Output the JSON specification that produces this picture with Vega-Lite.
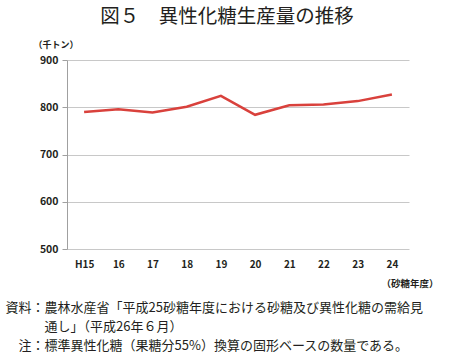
{
  "$schema": "https://vega.github.io/schema/vega-lite/v6.json",
  "autosize": "none",
  "width": 342,
  "height": 189,
  "padding": {"left": 67, "top": 60, "right": 41, "bottom": 103},
  "background": "white",
  "config": {
    "font": "Noto Sans CJK JP",
    "view": {"stroke": null},
    "axis": {"labelFont": "Noto Sans CJK JP", "titleFont": "Noto Sans CJK JP"}
  },
  "title": {
    "text": "図５　異性化糖生産量の推移",
    "fontSize": 19.5,
    "fontWeight": 400,
    "color": "#231f20",
    "anchor": "middle",
    "dx": -11,
    "offset": 13
  },
  "data": {
    "values": [
      {"year": "H15", "v": 790},
      {"year": "16", "v": 796},
      {"year": "17", "v": 789},
      {"year": "18", "v": 801},
      {"year": "19", "v": 824},
      {"year": "20", "v": 784},
      {"year": "21", "v": 804},
      {"year": "22", "v": 806},
      {"year": "23", "v": 813},
      {"year": "24", "v": 827}
    ]
  },
  "layer": [
    {
      "mark": {"type": "line", "color": "#d9413c", "strokeWidth": 2.5},
      "encoding": {
        "x": {
          "field": "year",
          "type": "ordinal",
          "sort": null,
          "scale": {"type": "point", "padding": 0.5},
          "axis": {
            "orient": "bottom",
            "labelAngle": 0,
            "labelFontSize": 10,
            "labelFontWeight": "bold",
            "labelColor": "#231f20",
            "labelPadding": 10,
            "ticks": false,
            "domain": false,
            "title": [
              "資料：農林水産省「平成25砂糖年度における砂糖及び異性化糖の需給見",
              "\u200b　　　通し」（平成26年６月）",
              "\u200b　注：標準異性化糖（果糖分55%）換算の固形ベースの数量である。"
            ],
            "titleFontSize": 13,
            "titleFontWeight": "normal",
            "titleColor": "#231f20",
            "titleAlign": "left",
            "titleBaseline": "top",
            "titleAnchor": null,
            "titleX": -62,
            "titleY": 52,
            "titleLineHeight": 19
          }
        },
        "y": {
          "field": "v",
          "type": "quantitative",
          "scale": {"domain": [500, 900], "nice": false, "zero": false},
          "axis": {
            "orient": "left",
            "values": [500, 600, 700, 800, 900],
            "labelFontSize": 10.5,
            "labelFontWeight": "bold",
            "labelColor": "#231f20",
            "labelPadding": 4,
            "tickSize": 5,
            "tickColor": "#a0a0a0",
            "domainColor": "#a0a0a0",
            "gridColor": "#c8c8c8",
            "grid": true,
            "title": "（千トン）",
            "titleAngle": 0,
            "titleFontSize": 9,
            "titleFontWeight": "bold",
            "titleColor": "#231f20",
            "titleAlign": "left",
            "titleBaseline": "middle",
            "titleAnchor": null,
            "titleX": -34,
            "titleY": -16
          }
        }
      }
    },
    {
      "mark": {"type": "line", "opacity": 0},
      "encoding": {
        "x": {"field": "year", "type": "ordinal", "sort": null},
        "y": {
          "field": "v",
          "type": "quantitative",
          "axis": {
            "orient": "right",
            "grid": false,
            "labels": false,
            "ticks": false,
            "domain": false,
            "title": "（砂糖年度）",
            "titleAngle": 0,
            "titleFontSize": 9.5,
            "titleFontWeight": "bold",
            "titleColor": "#231f20",
            "titleAlign": "left",
            "titleBaseline": "middle",
            "titleAnchor": null,
            "titleX": -28,
            "titleY": 223
          }
        }
      }
    }
  ],
  "resolve": {"axis": {"y": "independent"}}
}
